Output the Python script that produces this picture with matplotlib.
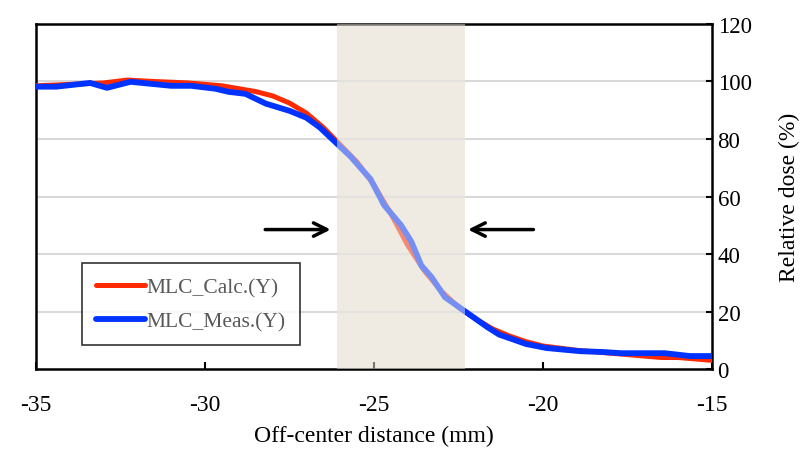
import matplotlib
matplotlib.use("Agg")
import matplotlib.pyplot as plt

# lecturas aproximadas del perfil (mm, %)
x_calc = [-35, -34, -33, -32.3, -31.5, -30.5, -29.5, -28.5, -28, -27.5, -27, -26.5,
          -26, -25.5, -25, -24.5, -24, -23.5, -23, -22.5, -22, -21.5, -21, -20.5,
          -20, -19, -18, -17, -16.5, -16, -15]
y_calc = [98.5, 99, 99.5, 100.5, 100, 99.5, 98.5, 96.5, 95, 92.5, 89, 84,
          78, 72, 64, 54, 43, 34, 27, 21.5, 17.5, 14, 11.5, 9.5,
          8, 6.5, 5.5, 4.5, 4, 4, 3]

x_meas = [-35, -34.4, -33.4, -32.9, -32.2, -31.0, -30.4, -29.7, -29.3, -28.8, -28.2,
          -27.5, -27.0, -26.6, -26.15, -25.7, -25.1, -24.7, -24.2, -23.9, -23.6,
          -23.3, -22.9, -22.3, -21.65, -21.3, -20.5, -19.9, -18.9, -18.2, -17.7,
          -16.4, -15.65, -15]
y_meas = [98.2, 98.2, 99.5, 97.8, 99.9, 98.5, 98.5, 97.5, 96.4, 95.7, 92.3,
          89.8, 87.4, 84, 79, 74, 66, 57, 50, 44.4, 36,
          32, 25, 20, 14.6, 12, 8.7, 7.3, 6.2, 5.9, 5.5,
          5.5, 4.5, 4.5]

banda = (-26.1, -22.3)
flecha_izq = (-28.3, -26.2)
flecha_der = (-20.2, -22.3)
y_flecha = 48.5

plt.rcParams['font.family'] = ['Liberation Serif', 'DejaVu Serif']
plt.rcParams['axes.unicode_minus'] = False

fig = plt.figure(figsize=(8.01, 4.52), dpi=100)
ax = fig.add_axes([0.0449, 0.1814, 0.844, 0.7633])

beige = '#EFEBE3'
ax.axvspan(*banda, color=beige, zorder=0, lw=0)

ax.plot(x_calc, y_calc, color='#FF2A00', lw=3.6, label='MLC_Calc.(Y)', zorder=3)
ax.plot(x_meas, y_meas, color='#0033FF', lw=4.2, label='MLC_Meas.(Y)', zorder=4)

# la banda tapa parcialmente las curvas
ax.axvspan(*banda, color=beige, alpha=0.5, zorder=5, lw=0)

ax.annotate('', xy=(flecha_izq[1], y_flecha), xytext=(flecha_izq[0], y_flecha),
            arrowprops=dict(arrowstyle='->', lw=2.5, color='black', mutation_scale=24))
ax.annotate('', xy=(flecha_der[1], y_flecha), xytext=(flecha_der[0], y_flecha),
            arrowprops=dict(arrowstyle='->', lw=2.5, color='black', mutation_scale=24))

ax.set_xlim(-35, -15)
ax.set_ylim(0, 120)
ax.set_xticks([-35, -30, -25, -20, -15])
ax.set_yticks([0, 20, 40, 60, 80, 100, 120])
ax.yaxis.tick_right()
ax.yaxis.set_label_position('right')

for y in [20, 40, 60, 80, 100]:
    ax.axhline(y, color='#D9D9D9', lw=1.5, zorder=1)

for s in ax.spines.values():
    s.set_linewidth(1.8)
    s.set_color('black')

ax.tick_params(axis='x', direction='in', length=5, width=1.5, pad=18, labelsize=17)
ax.tick_params(axis='y', direction='in', length=4, width=1.5, pad=4, labelsize=16.5)

ax.set_xlabel('Off-center distance (mm)', fontsize=17, labelpad=7)
ax.set_ylabel('Relative dose (%)', fontsize=17, labelpad=20)

leg = ax.legend(loc='lower left', bbox_to_anchor=(0.068, 0.069), fontsize=15.5,
                frameon=True, fancybox=False, handlelength=2.3, handletextpad=0.05,
                borderpad=0.65, labelspacing=0.65, borderaxespad=0)
leg.get_frame().set_edgecolor('black')
leg.get_frame().set_linewidth(1.2)
for t in leg.get_texts():
    t.set_color('#595959')
for h in leg.get_lines():
    h.set_solid_capstyle('round')

fig.savefig('out.png', dpi=100)
